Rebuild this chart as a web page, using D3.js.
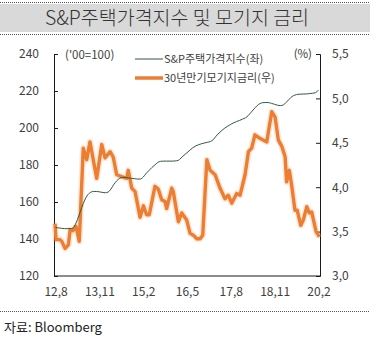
<!DOCTYPE html>
<html><head><meta charset="utf-8">
<script src="https://cdn.jsdelivr.net/npm/d3@7"></script>
<style>
html,body{margin:0;padding:0;background:#fff;}
svg{display:block;font-family:"Noto Sans CJK KR","Noto Sans",sans-serif;}
</style></head>
<body><svg id="c" width="370" height="339"></svg>
<script>
// ---- data ----
const title = "S&P주택가격지수 및 모기지 금리";
const source = "자료: Bloomberg";
const seriesNames = ["S&P주택가격지수(좌)", "30년만기모기지금리(우)"];
const leftUnit = "('00=100)";
const rightUnit = "(%)";
const leftTicks = [120, 140, 160, 180, 200, 220, 240];
const rightTicks = [3.0, 3.5, 4.0, 4.5, 5.0, 5.5];
const xTickDates = ["2012-08-01","2013-11-01","2015-02-01","2016-05-01","2017-08-01","2018-11-01","2020-02-01"];
const xDomain = ["2012-07-16", "2020-02-17"];
// monthly S&P house price index, 2012.8 .. 2020.2
const hpiStart = "2012-08-01";
const hpiValues = [
  146.2,146.0,145.8,145.6,145.6,
  145.6,146.0,148.5,152.5,157.0,161.0,163.8,165.2,165.7,165.7,165.5,165.2,
  165.0,165.4,167.0,169.5,171.5,172.8,173.3,173.3,173.0,172.8,172.6,172.4,
  172.4,173.5,175.3,177.0,178.6,180.0,181.3,182.0,182.1,182.1,182.1,182.1,
  182.2,182.5,183.8,185.3,186.6,188.0,189.3,190.3,191.0,191.5,191.9,192.3,
  192.7,193.8,195.6,197.3,198.7,200.0,201.0,202.0,202.8,203.5,204.1,204.8,
  205.5,206.8,208.5,210.3,212.0,213.2,213.7,213.8,213.7,213.3,212.8,212.3,
  212.1,212.5,213.8,215.5,217.0,217.8,218.2,218.3,218.4,218.4,218.6,218.8,
  219.1,220.5
];
// 30-year mortgage rate observations (date, %)
const rateDates = [
  "2012-07-27","2012-08-06","2012-09-17","2012-10-05","2012-11-09","2012-12-13","2012-12-31",
  "2013-01-28","2013-03-02","2013-04-05","2013-05-17","2013-06-22","2013-07-26","2013-10-04","2013-11-26","2013-12-30",
  "2014-02-21","2014-03-25","2014-04-30","2014-06-21","2014-08-12","2014-08-29","2014-10-04","2014-11-08","2014-12-30",
  "2015-02-03","2015-03-08","2015-04-05","2015-06-03","2015-07-07","2015-08-12","2015-09-16","2015-10-03","2015-11-25","2015-12-11",
  "2016-02-02","2016-03-08","2016-04-29","2016-06-03","2016-07-07","2016-08-12","2016-09-16","2016-10-13","2016-11-25","2016-12-29",
  "2017-02-19","2017-04-11","2017-06-02","2017-07-06","2017-08-11","2017-10-02","2017-11-06","2017-12-28",
  "2018-02-01","2018-03-07","2018-04-10","2018-06-01","2018-08-11","2018-10-02","2018-11-06","2018-12-10",
  "2019-01-15","2019-02-19","2019-03-06","2019-04-03","2019-04-28","2019-06-01","2019-06-25","2019-07-31","2019-08-27",
  "2019-10-02","2019-10-29","2019-11-23","2020-01-07","2020-02-11"
];
const rateValues = [
  3.59,3.41,3.41,3.39,3.31,3.35,3.52,
  3.51,3.56,3.39,4.44,4.31,4.51,4.10,4.48,4.33,
  4.40,4.34,4.14,4.12,4.10,4.19,3.99,3.95,3.66,
  3.79,3.69,3.69,4.01,3.98,3.86,3.84,3.76,3.99,3.95,
  3.61,3.71,3.63,3.48,3.46,3.42,3.42,3.46,4.31,4.19,
  4.14,3.99,3.87,3.91,3.82,3.93,3.91,4.14,
  4.40,4.44,4.59,4.55,4.51,4.85,4.79,4.53,
  4.46,4.34,4.06,4.19,4.02,3.74,3.74,3.57,3.63,
  3.78,3.71,3.72,3.50,3.44
];
const colors = {hpi:"#2f5a3a", rate:"#ED7D31", text:"#404040", axis:"#1a1a1a"};

// ---- build ----
const svg = d3.select("#c");
const W = 370;
const parse = d3.timeParse("%Y-%m-%d");
const hpiData = hpiValues.map((v,i)=>({d:d3.timeMonth.offset(parse(hpiStart), i), v}));
const rateData = rateDates.map((s,i)=>({d:parse(s), v:rateValues[i]}));

const plot = {l:54, r:320, t:54, b:276};
const x = d3.scaleTime().domain(xDomain.map(parse)).range([plot.l, plot.r]);
const yL = d3.scaleLinear().domain([120,240]).range([plot.b, plot.t]);
const yR = d3.scaleLinear().domain([3,5.5]).range([plot.b, plot.t]);

// title banner
svg.append("rect").attr("x",0).attr("y",4).attr("width",W).attr("height",28).attr("fill","#d9d9d9");
[2.5, 34.5].forEach(y=>svg.append("line").attr("x1",0).attr("x2",W).attr("y1",y).attr("y2",y)
  .attr("stroke","#555").attr("stroke-width",1).attr("stroke-dasharray","1,1"));
svg.append("text").attr("x",177).attr("y",25).attr("text-anchor","middle")
  .attr("font-size",19.5).attr("font-weight",300).attr("fill","#333").text(title);

// axes
const fmtR = d => d3.format(".1f")(d).replace(".", ",");
const fmtX = d3.timeFormat("%y,%-m");
const gL = svg.append("g").attr("transform",`translate(${plot.l},0)`)
  .call(d3.axisLeft(yL).tickValues(leftTicks).tickSize(-4).tickPadding(15));
const gR = svg.append("g").attr("transform",`translate(${plot.r},0)`)
  .call(d3.axisRight(yR).tickValues(rightTicks).tickSize(-4).tickPadding(12).tickFormat(fmtR));
const gB = svg.append("g").attr("transform",`translate(0,${plot.b})`)
  .call(d3.axisBottom(x).tickValues(xTickDates.map(parse)).tickSize(0).tickPadding(11).tickFormat(fmtX));
[gL,gR,gB].forEach(g=>{
  g.selectAll("path.domain").attr("stroke",colors.axis);
  g.selectAll(".tick line").attr("stroke",colors.axis);
  g.selectAll("text").attr("font-size",12).attr("fill",colors.text)
    .attr("font-family",'"Noto Sans CJK KR","Noto Sans",sans-serif');
});
gB.select("path.domain").attr("d",`M${plot.l},0H${plot.r}`);

// unit labels
svg.append("text").attr("x",65).attr("y",59).attr("font-size",11.5).attr("fill",colors.text).text(leftUnit);
svg.append("text").attr("x",312).attr("y",58).attr("text-anchor","end").attr("font-size",11.5).attr("fill",colors.text).text(rightUnit);

// lines
const lineR = d3.line().x(d=>x(d.d)).y(d=>yR(d.v));
const lineL = d3.line().x(d=>x(d.d)).y(d=>yL(d.v)).curve(d3.curveMonotoneX);
svg.append("path").datum(rateData).attr("d",lineR).attr("fill","none")
  .attr("stroke",colors.rate).attr("stroke-opacity",0.18).attr("stroke-width",6.5).attr("stroke-linejoin","round");
svg.append("path").datum(rateData).attr("d",lineR).attr("fill","none")
  .attr("stroke",colors.rate).attr("stroke-width",3.4).attr("stroke-linejoin","round");
svg.append("path").datum(hpiData).attr("d",lineL).attr("fill","none")
  .attr("stroke",colors.hpi).attr("stroke-width",1);

// legend
const lg = svg.append("g");
lg.append("line").attr("x1",135).attr("x2",163).attr("y1",59).attr("y2",59).attr("stroke",colors.hpi).attr("stroke-width",1);
lg.append("text").attr("x",164).attr("y",63).attr("font-size",11).attr("fill",colors.text).text(seriesNames[0]);
lg.append("line").attr("x1",135).attr("x2",163).attr("y1",78).attr("y2",78).attr("stroke",colors.rate).attr("stroke-width",3.5);
lg.append("text").attr("x",164).attr("y",82).attr("font-size",11).attr("fill",colors.text).text(seriesNames[1]);

// footer
svg.append("line").attr("x1",0).attr("x2",W).attr("y1",311.5).attr("y2",311.5)
  .attr("stroke","#555").attr("stroke-width",1).attr("stroke-dasharray","1,1");
svg.append("text").attr("x",4).attr("y",332).attr("font-size",13).attr("fill","#222").text(source);
</script></body></html>
